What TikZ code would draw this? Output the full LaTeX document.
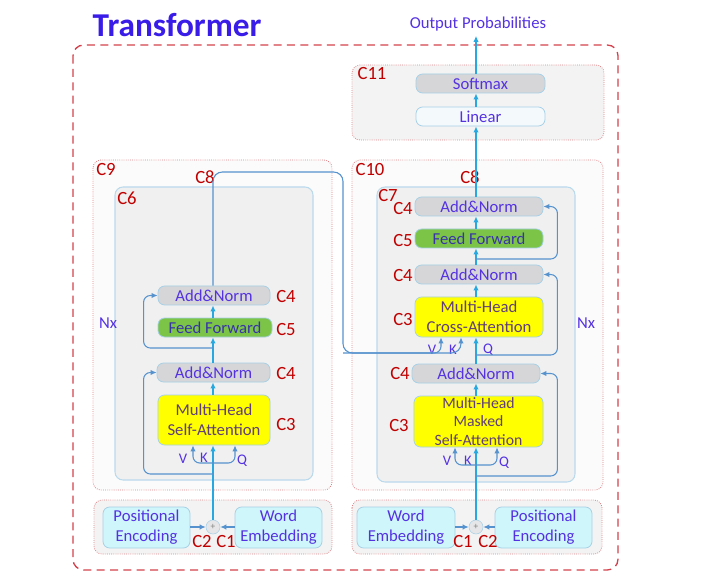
\documentclass[tikz,border=0pt]{standalone}
\usepackage{fontspec}
\setmainfont{Carlito}
\usepackage{xcolor}
\usepackage{tikz}
\usetikzlibrary{arrows.meta,calc}

\definecolor{txtblue}{RGB}{84,50,226}
\definecolor{ttlblue}{RGB}{58,28,232}
\definecolor{labred}{RGB}{192,0,0}
\definecolor{dotred}{RGB}{225,130,135}
\definecolor{dashred}{RGB}{212,64,76}
\definecolor{grpfill}{RGB}{243,243,243}
\definecolor{layfill}{RGB}{240,240,240}
\definecolor{layline}{RGB}{185,218,236}
\definecolor{boxline}{RGB}{165,208,230}
\definecolor{normfill}{RGB}{214,214,216}
\definecolor{ffgreen}{RGB}{124,196,72}
\definecolor{attnyel}{RGB}{255,255,0}
\definecolor{embfill}{RGB}{207,246,250}
\definecolor{linfill}{RGB}{244,249,251}
\definecolor{stemcyan}{RGB}{40,168,224}
\definecolor{resblue}{RGB}{86,146,206}
\definecolor{attntxt}{RGB}{96,62,120}
\definecolor{fftxt}{RGB}{56,52,168}

\begin{document}
\begin{tikzpicture}[x=.75pt,y=-.75pt,font=\fontsize{12.5}{15}\selectfont,
    grp/.style={draw=dotred,densely dotted,line width=.6pt,rounded corners=6pt,fill=grpfill},
    layer/.style={draw=layline,line width=.8pt,rounded corners=6pt,fill=layfill},
    sz/.style 2 args={minimum width=#1*.75pt,minimum height=#2*.75pt},
    blk/.style={draw=boxline,line width=.6pt,rounded corners=5pt,inner sep=1pt,text=txtblue,align=center},
    norm/.style={blk,fill=normfill},
    ffwd/.style={blk,fill=ffgreen,text=fftxt},
    attn/.style={blk,fill=attnyel,text=attntxt},
    emb/.style={blk,fill=embfill},
    linr/.style={blk,fill=linfill},
    lab/.style={text=labred,font=\fontsize{14}{16}\selectfont},
    nx/.style={text=txtblue},
    vkq/.style={text=txtblue,font=\fontsize{11}{12}\selectfont},
    stem/.style={stemcyan,line width=1pt,-{Latex[length=4.5pt,width=4pt]}},
    res/.style={resblue,line width=.8pt,rounded corners=5pt,-{Latex[length=4.5pt,width=4pt]}},
    addc/.style={circle,draw=boxline,fill=normfill!60,inner sep=0pt,minimum size=10.5pt,text=gray,font=\scriptsize}
  ]
  \useasboundingbox (0,0) rectangle (719,585);
  % frame and groups
  \draw[dashred,line width=1pt,dash pattern=on 6pt off 4pt,rounded corners=8pt] (73,45) rectangle (618,570);
  \draw[grp] (352,65) rectangle (604,140);
  \draw[grp,fill=grpfill!35] (93,160) rectangle (332,490);
  \draw[grp,fill=grpfill!35] (352,160) rectangle (603,490);
  \draw[layer] (115,187) rectangle (313,480);
  \draw[layer] (377,187) rectangle (575,482);
  \draw[grp] (94,500) rectangle (332,554);
  \draw[grp] (352,500) rectangle (602,554);

  \node[anchor=west,text=ttlblue,font=\fontsize{25}{30}\selectfont\bfseries] (title) at (88,25) {Transformer};
  \node[text=txtblue] (outp) at (478,24) {Output Probabilities};

  % output head
  \node[norm,sz={129}{19}] (soft) at (480.5,83.5) {Softmax};
  \node[linr,sz={129}{19}] (lin) at (480.5,116.5) {Linear};

  % encoder
  \node[attn,sz={112}{50}] (eself) at (214,420) {Multi-Head\\Self-Attention};
  \node[norm,sz={113}{19}] (enorma) at (213.5,372.5) {Add\&Norm};
  \node[ffwd,sz={114}{19}] (effwd) at (215,327.5) {Feed Forward};
  \node[norm,sz={112}{19}] (enormb) at (214,295.5) {Add\&Norm};

  % decoder
  \node[attn,sz={129}{51},font=\fontsize{11.8}{13.8}\selectfont] (dmask) at (478.5,421.5) {Multi-Head\\Masked\\Self-Attention};
  \node[norm,sz={128}{19}] (dnorma) at (476,373.5) {Add\&Norm};
  \node[attn,sz={128}{40}] (dcross) at (479,317) {Multi-Head\\Cross-Attention};
  \node[norm,sz={128}{19}] (dnormb) at (479,274.5) {Add\&Norm};
  \node[ffwd,sz={128}{19}] (dffwd) at (479,238.5) {Feed Forward};
  \node[norm,sz={128}{19}] (dnormc) at (479,206.5) {Add\&Norm};

  % inputs
  \node[emb,sz={87}{41}] (epos) at (146.5,527.5) {Positional\\Encoding};
  \node[emb,sz={87}{41}] (eword) at (278.5,527.5) {Word\\Embedding};
  \node[addc] (eadd) at (213,527) {+};
  \node[emb,sz={98}{41}] (dword) at (406,527.5) {Word\\Embedding};
  \node[emb,sz={97}{41}] (dpos) at (543.5,527.5) {Positional\\Encoding};
  \node[addc] (dadd) at (476,527) {+};

  % labels
  \foreach \n/\x/\y/\t in {a/372/74/C11,b/370/170/C10,c/106/170/C9,d/127/198/C6,e/388/196/C7,
      f/205/177/C8,g/470/177/C8,h/286/297/C4,i/286/330/C5,j/286/374/C4,k/286/425/C3,
      l/403/209/C4,m/403/241/C5,n/403/276/C4,o/403/320/C3,p/400/374/C4,q/399/426/C3,
      r/202/542/C2,s/226/542/C1,t/463/542/C1,u/488/542/C2}
    \node[lab] (lab\n) at (\x,\y) {\t};
  \node[nx] (nxe) at (108,323) {Nx};
  \node[nx] (nxd) at (586,323) {Nx};
  \foreach \n/\x/\y/\t in {ev/183/459/V,ek/204/458/K,eq/242/461/Q,
      mv/447/461/V,mk/468/461/K,mq/504/463/Q,cv/432/350/V,ck/453/350/K,cq/488/350/Q}
    \node[vkq] (\n) at (\x,\y) {\t};

  % branch points
  \coordinate (eu) at (213,463);
  \coordinate (er1) at (213,474);
  \coordinate (er2) at (213,348);
  \coordinate (du) at (476,465);
  \coordinate (dr1) at (476,476);
  \coordinate (dr2) at (476,355);
  \coordinate (dr3) at (476,259);
  \coordinate (c8r) at (343,172);
  \coordinate (c8b) at (343,353);

  % inputs to sum
  \draw[res] (epos.east |- eadd) -- (eadd.west);
  \draw[res] (eword.west |- eadd) -- (eadd.east);
  \draw[res] (dword.east |- dadd) -- (dadd.west);
  \draw[res] (dpos.west |- dadd) -- (dadd.east);

  % encoder flow
  \draw[stem] (eadd.north) -- (eadd.north |- eself.south);
  \draw[res] (eu) -| ($(eself.south)+(-21,0)$);
  \draw[res] (eu) -| ($(eself.south)+(21,0)$);
  \draw[stem] (eself.north -| eadd) -- (enorma.south -| eadd);
  \draw[stem] (enorma.north -| eadd) -- (effwd.south -| eadd);
  \draw[stem] (effwd.north -| eadd) -- (enormb.south -| eadd);
  \draw[res] (er1) -| ($(enorma.west)+(-13,0)$) -- (enorma.west);
  \draw[res] (er2) -| ($(enormb.west)+(-14,0)$) -- (enormb.west);

  % encoder output to cross attention
  \draw[res,rounded corners=7pt] (enormb.north -| eadd) |- (c8r) -- (c8b) -| ($(dcross.south)+(-18,0)$);
  \draw[res] (c8b) -| ($(dcross.south)+(-38,0)$);

  % decoder flow
  \draw[stem] (dadd.north) -- (dadd.north |- dmask.south);
  \draw[res] (du) -| ($(dmask.south)+(-23.5,0)$);
  \draw[res] (du) -| ($(dmask.south)+(18.5,0)$);
  \draw[stem] (dmask.north -| dadd) -- (dnorma.south -| dadd);
  \draw[stem] (dnorma.north -| dadd) -- (dcross.south -| dadd);
  \draw[stem] (dcross.north -| dadd) -- (dnormb.south -| dadd);
  \draw[stem] (dnormb.north -| dadd) -- (dffwd.south -| dadd);
  \draw[stem] (dffwd.north -| dadd) -- (dnormc.south -| dadd);
  \draw[res] (dr1) -| ($(dnorma.east)+(17,0)$) -- (dnorma.east);
  \draw[res] (dr2) -| ($(dnormb.east)+(14,0)$) -- (dnormb.east);
  \draw[res] (dr3) -| ($(dnormc.east)+(14,0)$) -- (dnormc.east);

  % output head
  \draw[stem] (dnormc.north -| dadd) -- (lin.south -| dadd);
  \draw[stem] (lin.north -| dadd) -- (soft.south -| dadd);
  \draw[stem] (soft.north -| dadd) -- (outp.south -| dadd);
\end{tikzpicture}
\end{document}
